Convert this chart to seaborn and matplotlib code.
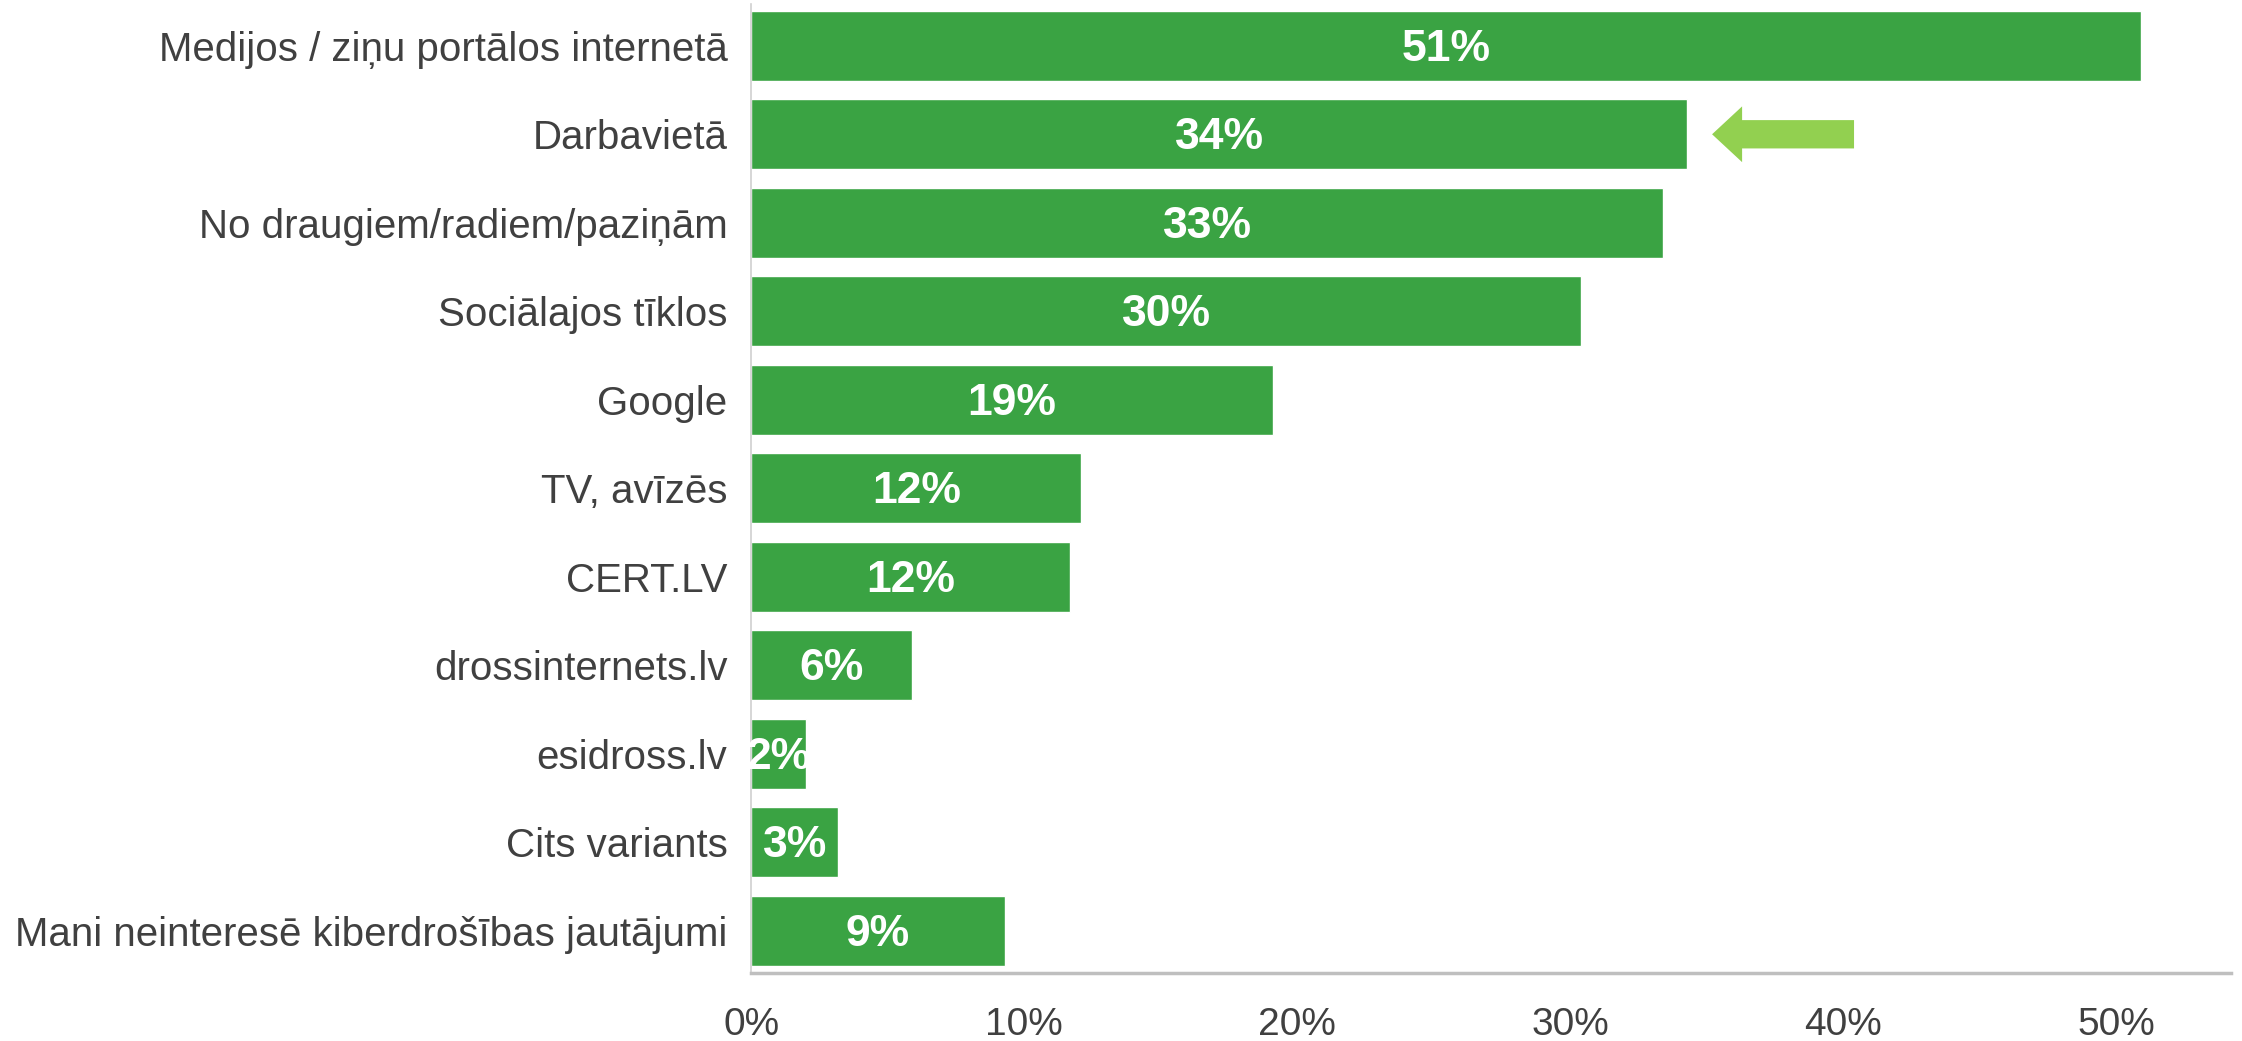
import numpy as np
import pandas as pd
import matplotlib
matplotlib.use("Agg")
import matplotlib.pyplot as plt
import seaborn as sns
from matplotlib.patches import FancyArrow

# data
categories = [
    "Medijos / ziņu portālos internetā",
    "Darbavietā",
    "No draugiem/radiem/paziņām",
    "Sociālajos tīklos",
    "Google",
    "TV, avīzēs",
    "CERT.LV",
    "drossinternets.lv",
    "esidross.lv",
    "Cits variants",
    "Mani neinteresē kiberdrošības jautājumi",
]
values = [50.9, 34.3, 33.4, 30.4, 19.1, 12.1, 11.7, 5.9, 2.0, 3.2, 9.3]
labels = ["51%", "34%", "33%", "30%", "19%", "12%", "12%", "6%", "2%", "3%", "9%"]
x_ticks = [0, 10, 20, 30, 40, 50]
highlight = "Darbavietā"

df = pd.DataFrame({"source": categories, "share": values, "label": labels})

sns.set_theme(style="white")
plt.rcParams["font.family"] = ["Liberation Sans", "DejaVu Sans"]

bar_color = "#3AA343"
text_color = "#404040"

fig = plt.figure(figsize=(22.42, 10.41), dpi=100)
ax = fig.add_axes([0.335, 0.065, 0.66, 0.931])

sns.barplot(data=df, x="share", y="source", color=bar_color, saturation=1,
            width=0.79, ax=ax)

# value labels in the middle of each bar
for i, row in df.iterrows():
    ax.text(row["share"] / 2, i + 0.04, row["label"], ha="center", va="center",
            color="white", fontsize=32, fontweight="bold")

# arrow pointing at the highlighted bar
hi = categories.index(highlight)
tail = values[hi] + 6.1
tip = values[hi] + 0.9
ax.add_patch(FancyArrow(tail, hi, tip - tail, 0, width=0.32, head_width=0.63,
                        head_length=1.1, length_includes_head=True,
                        color="#92D050", linewidth=0))

ax.set_xlim(0, 54.2)
ax.set_ylim(10.48, -0.47)
ax.set_xticks(x_ticks)
ax.set_xticklabels([f"{t}%" for t in x_ticks])
ax.set_xlabel("")
ax.set_ylabel("")
ax.tick_params(axis="x", length=0, pad=24, labelsize=28, labelcolor=text_color)
ax.tick_params(axis="y", length=0, pad=17, labelsize=29, labelcolor=text_color)

for side in ["top", "right"]:
    ax.spines[side].set_visible(False)
ax.spines["left"].set_color("#D0D0D0")
ax.spines["left"].set_linewidth(1.2)
ax.spines["bottom"].set_color("#BFBFBF")
ax.spines["bottom"].set_linewidth(2.5)

fig.savefig("out.png", dpi=100)
